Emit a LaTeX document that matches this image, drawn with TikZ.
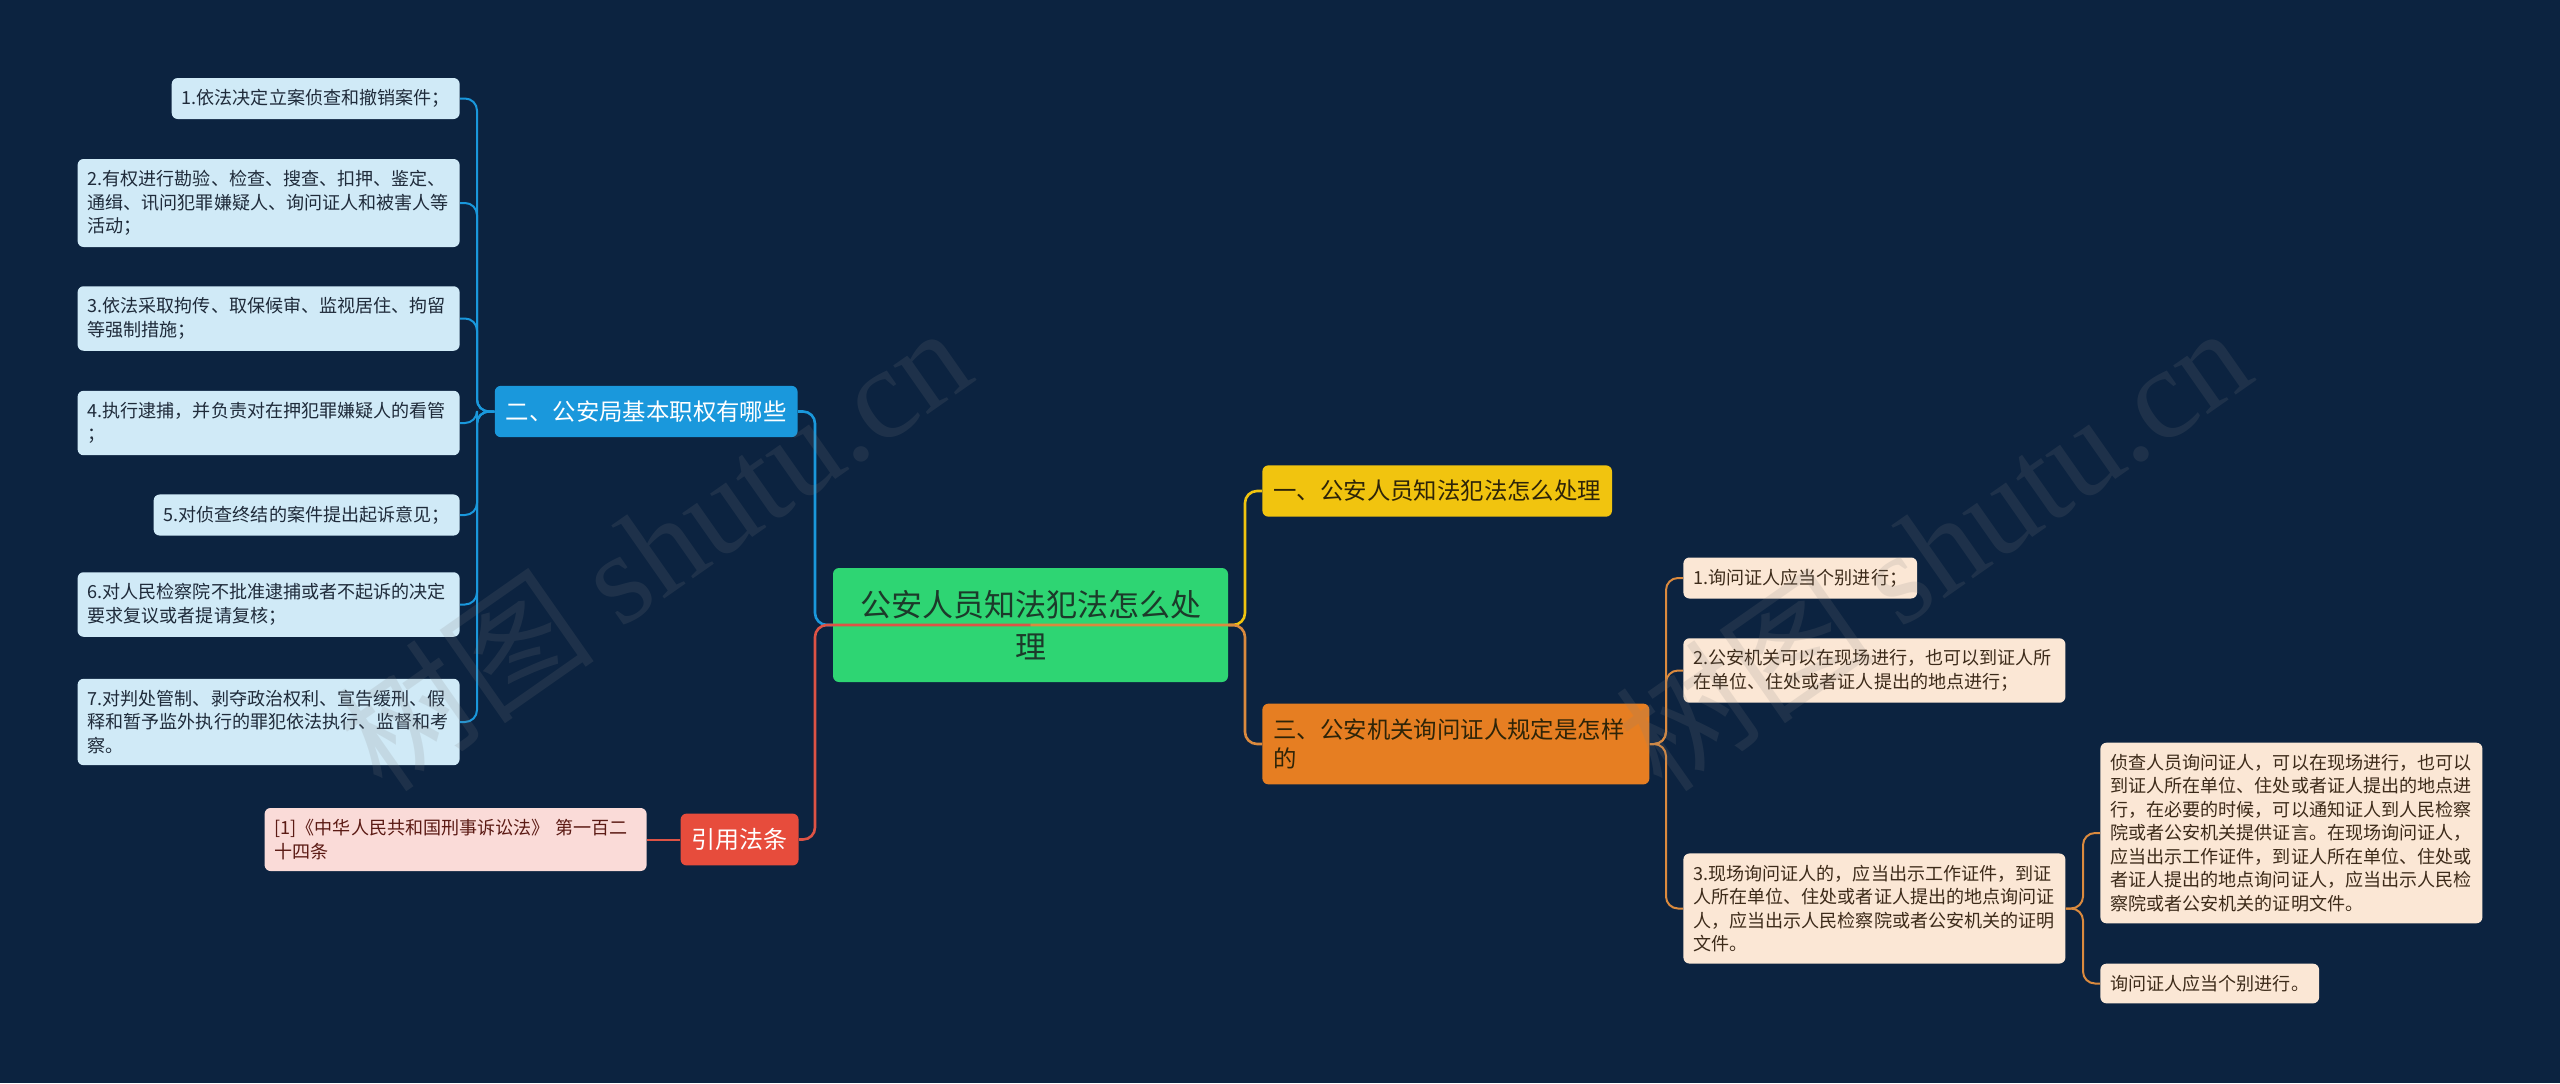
\documentclass[tikz,border=0pt]{standalone}
\usepackage{fontspec}
\setmainfont{Noto Sans CJK SC}
\newfontfamily\wmlatin{Liberation Serif}
\definecolor{mapbg}{HTML}{0C2340}
\definecolor{rootgreen}{HTML}{2ED573}
\definecolor{rootink}{HTML}{1C3A2A}
\definecolor{dutyblue}{HTML}{1A98DC}
\definecolor{lawred}{HTML}{E74C3C}
\definecolor{topicyellow}{HTML}{F1C40F}
\definecolor{topicorange}{HTML}{E67E22}
\definecolor{linkorange}{HTML}{DB8A3E}
\definecolor{linkred}{HTML}{DD5345}
\definecolor{leafblue}{HTML}{D0EAF7}
\definecolor{leafbeige}{HTML}{FBE7D5}
\definecolor{leafpink}{HTML}{FADBD8}
\definecolor{blueink}{HTML}{1F2B3A}
\definecolor{beigeink}{HTML}{3D2B1A}
\definecolor{pinkink}{HTML}{5B1A14}
\definecolor{darkink}{HTML}{2E2408}

\begin{document}
\begin{tikzpicture}[x=0.5pt,y=-0.5pt,
  box/.style={rounded corners=3pt,inner xsep=5pt,inner ysep=5.7pt,align=left},
  leaftxt/.style={font=\fontsize{9.03}{11.75}\selectfont},
  wrapped/.style={text width=181pt},
  lbox/.style={box,leaftxt,fill=leafblue,text=blueink,anchor=east},
  rbox/.style={box,leaftxt,fill=leafbeige,text=beigeink,anchor=west},
  cbox/.style={box,leaftxt,fill=leafpink,text=pinkink,anchor=east},
  topic/.style={box,inner xsep=5.5pt,inner ysep=7.4pt,font=\fontsize{11.7}{14.5}\selectfont},
  mainlink/.style={line width=1.3pt,rounded corners=6pt},
  leaflink/.style={line width=1pt,rounded corners=6pt},
  wm/.style={text=gray,opacity=0.16,rotate=35,font=\fontsize{65}{65}\selectfont}]
\useasboundingbox[fill=mapbg] (0,0) rectangle (2560,1083);

% root and first level
\node[box,fill=rootgreen,text=rootink,align=center,minimum width=197.5pt,minimum height=57pt,
  font=\fontsize{15.5}{21}\selectfont] (root) at (1030.5,625) {公安人员知法犯法怎么处\\理};
\node[topic,fill=topicyellow,text=darkink,anchor=west] (b1) at (1262,491) {一、公安人员知法犯法怎么处理};
\node[topic,fill=dutyblue,text=white,anchor=east] (b2) at (798,411.5) {二、公安局基本职权有哪些};
\node[topic,fill=topicorange,text=darkink,anchor=west,text width=182.5pt,inner ysep=7.6pt] (b3) at (1262,744) {三、公安机关询问证人规定是怎样\\的};
\node[topic,fill=lawred,text=white,anchor=east,font=\fontsize{12}{14.5}\selectfont] (ref) at (799,839.5) {引用法条};

% duties
\node[lbox] (L1) at (460,98.5) {1.依法决定立案侦查和撤销案件；};
\node[lbox,wrapped] (L2) at (460,203) {2.有权进行勘验、检查、搜查、扣押、鉴定、\\通缉、讯问犯罪嫌疑人、询问证人和被害人等\\活动；};
\node[lbox,wrapped] (L3) at (460,318.5) {3.依法采取拘传、取保候审、监视居住、拘留\\等强制措施；};
\node[lbox,wrapped] (L4) at (460,423) {4.执行逮捕，并负责对在押犯罪嫌疑人的看管\\；};
\node[lbox] (L5) at (460,515) {5.对侦查终结的案件提出起诉意见；};
\node[lbox,wrapped] (L6) at (460,604.5) {6.对人民检察院不批准逮捕或者不起诉的决定\\要求复议或者提请复核；};
\node[lbox,wrapped] (L7) at (460,722) {7.对判处管制、剥夺政治权利、宣告缓刑、假\\释和暂予监外执行的罪犯依法执行、监督和考\\察。};
\node[cbox,wrapped] (cite) at (647,839.5) {[1]《中华人民共和国刑事诉讼法》 第一百二\\十四条};

% witness rules
\node[rbox] (R1) at (1683,578) {1.询问证人应当个别进行；};
\node[rbox,wrapped] (R2) at (1683,670.5) {2.公安机关可以在现场进行，也可以到证人所\\在单位、住处或者证人提出的地点进行；};
\node[rbox,wrapped] (R3) at (1683,908.5) {3.现场询问证人的，应当出示工作证件，到证\\人所在单位、住处或者证人提出的地点询问证\\人，应当出示人民检察院或者公安机关的证明\\文件。};
\node[rbox,wrapped] (R3a) at (2100,833) {侦查人员询问证人，可以在现场进行，也可以\\到证人所在单位、住处或者证人提出的地点进\\行，在必要的时候，可以通知证人到人民检察\\院或者公安机关提供证言。在现场询问证人，\\应当出示工作证件，到证人所在单位、住处或\\者证人提出的地点询问证人，应当出示人民检\\察院或者公安机关的证明文件。};
\node[rbox] (R3b) at (2100,983.5) {询问证人应当个别进行。};

% connectors
\foreach \leaf in {L1,L2,L3,L4,L5,L6,L7}
  \draw[leaflink,dutyblue] (b2.west) -- (477,411.5) |- (\leaf.east);
\foreach \leaf in {R1,R2,R3}
  \draw[leaflink,linkorange] (b3.east) -- (1666,744) |- (\leaf.west);
\foreach \leaf in {R3a,R3b}
  \draw[leaflink,linkorange] (R3.east) -- (2083,908.5) |- (\leaf.west);
\draw[leaflink,linkred] (ref.west) -- (cite.east);
\draw[mainlink,dutyblue] (root.west) -- (815,625) |- (b2.east);
\draw[mainlink,topicyellow] (root.east) -- (1245,625) |- (b1.west);
\draw[mainlink,linkred] (root.center) -- (815,625) |- (ref.east);
\draw[mainlink,linkorange] (root.center) -- (1245,625) |- (b3.west);

% watermarks
\node[wm] (wmleft) at (653,547) {树图 {\wmlatin shutu.cn}};
\node[wm] (wmright) at (1933,547) {树图 {\wmlatin shutu.cn}};
\end{tikzpicture}
\end{document}
